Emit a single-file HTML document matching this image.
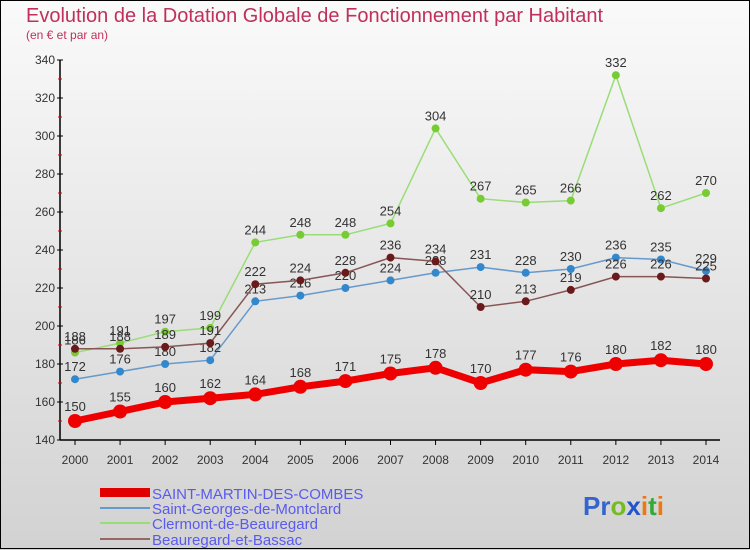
<!DOCTYPE html>
<html><head><meta charset="utf-8"><style>
body{margin:0}
#wrap{width:750px;height:550px;position:relative;overflow:hidden;background:linear-gradient(#fafafa,#d2d2d2);font-family:"Liberation Sans",sans-serif}
</style></head><body>
<div id="wrap">
<svg id="chart" width="750" height="550" xmlns="http://www.w3.org/2000/svg">
<rect x="0.5" y="0.5" width="749" height="548" fill="none" stroke="#000"/>
<text x="26" y="22" font-size="20" fill="#c0305a">Evolution de la Dotation Globale de Fonctionnement par Habitant</text>
<text x="26" y="39" font-size="12" fill="#c0305a">(en € et par an)</text>
<g id="axes"></g><g id="series"></g>
<g>
<rect x="100" y="488" width="50" height="9" fill="#e00000"/>
<text x="152" y="499" font-size="15" fill="#5a5aee">SAINT-MARTIN-DES-COMBES</text>
<rect x="100" y="507" width="50" height="2" fill="#6699cc"/>
<text x="152" y="514" font-size="15" fill="#5a5aee">Saint-Georges-de-Montclard</text>
<rect x="100" y="522" width="50" height="2" fill="#99dd77"/>
<text x="152" y="529" font-size="15" fill="#5a5aee">Clermont-de-Beauregard</text>
<rect x="100" y="538" width="50" height="2" fill="#996666"/>
<text x="152" y="545" font-size="15" fill="#5a5aee">Beauregard-et-Bassac</text>
</g>
<text x="583" y="515" font-size="26" font-weight="bold"><tspan fill="#3366cc">Pr</tspan><tspan fill="#77bb22">o</tspan><tspan fill="#2255cc">x</tspan><tspan fill="#ee7711">i</tspan><tspan fill="#33aa33">t</tspan><tspan fill="#ee7711">i</tspan></text>
</svg>
</div>
<script>
const years=[2000,2001,2002,2003,2004,2005,2006,2007,2008,2009,2010,2011,2012,2013,2014];
const yTicks=[140,160,180,200,220,240,260,280,300,320,340];
const saintMartin=[150,155,160,162,164,168,171,175,178,170,177,176,180,182,180];
const saintGeorges=[172,176,180,182,213,216,220,224,228,231,228,230,236,235,229];
const clermont=[186,191,197,199,244,248,248,254,304,267,265,266,332,262,270];
const beauregard=[188,188,189,191,222,224,228,236,234,210,213,219,226,226,225];
const NS="http://www.w3.org/2000/svg";
const x0=75,x1=706,yBase=440,yTop=60,vMin=140,vMax=340;
function xs(i){return x0+(x1-x0)*i/(years.length-1);}
function ys(v){return yBase-(v-vMin)*(yBase-yTop)/(vMax-vMin);}
function mk(tag,attrs,parent){const e=document.createElementNS(NS,tag);for(const k in attrs)e.setAttribute(k,attrs[k]);parent.appendChild(e);return e;}
const axes=document.getElementById('axes');
let l=mk('line',{x1:60,y1:60,x2:60,y2:440,stroke:'#000','stroke-width':1.5},axes);


l=mk('line',{x1:60,y1:440,x2:720,y2:440,stroke:'#000','stroke-width':1.5},axes);


yTicks.forEach((v,i)=>{
 const y=ys(v);
 mk('line',{x1:57,y1:y,x2:63,y2:y,stroke:'#000'},axes);
 if(i<yTicks.length-1){const ym=ys(v+10);mk('line',{x1:58,y1:ym,x2:62,y2:ym,stroke:'#d00'},axes);}
 const t=mk('text',{x:55,y:y+4,'font-size':12,fill:'#333','text-anchor':'end'},axes);
 t.textContent=v;
 
 
});
years.forEach((yr,i)=>{
 const x=xs(i);
 mk('line',{x1:x,y1:440,x2:x,y2:445,stroke:'#000'},axes);
 const t=mk('text',{x:x,y:464,'font-size':12,fill:'#333','text-anchor':'middle'},axes);
 t.textContent=yr;
 
 
});
const ser=document.getElementById('series');
function draw(vals,color,dot,w,r,name){
 const g=mk('g',{},ser);
 
 
 const p=mk('polyline',{points:vals.map((v,i)=>xs(i)+','+ys(v)).join(' '),fill:'none',stroke:color,'stroke-width':w},g);
 
 
 vals.forEach((v,i)=>{
  const c=mk('circle',{cx:xs(i),cy:ys(v),r:r,fill:dot},g);
  
  
  const t=mk('text',{x:xs(i),y:ys(v)-8-(r>5?2:0),'font-size':13,fill:'#333','text-anchor':'middle'},g);
  t.textContent=v;
  
  
 });
}
draw(clermont,'#99dd77','#77cc33',1.5,4,'clermont');
draw(saintGeorges,'#6699cc','#3388cc',1.5,4,'saint-georges');
draw(beauregard,'#885555','#6a1a1a',1.5,4,'beauregard');
draw(saintMartin,'#ee0000','#ee0000',7,7,'saint-martin');
</script>
</body></html>
